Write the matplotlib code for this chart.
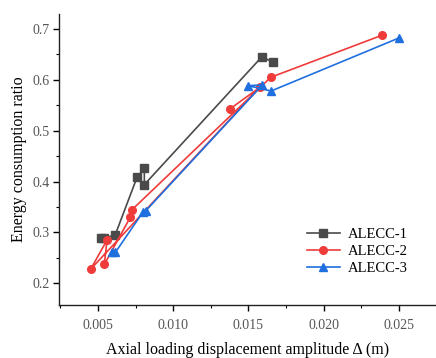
import matplotlib
matplotlib.use("Agg")
import matplotlib.pyplot as plt
from matplotlib.ticker import MultipleLocator

# values, in drawing order
alecc1_x = [0.00518, 0.00540, 0.00613, 0.00759, 0.00808, 0.00808, 0.01588, 0.01664]
alecc1_y = [0.289, 0.290, 0.294, 0.408, 0.426, 0.394, 0.645, 0.635]

alecc2_x = [0.01378, 0.01574, 0.00451, 0.00560, 0.00542, 0.00715, 0.00724, 0.01648, 0.02390]
alecc2_y = [0.543, 0.585, 0.2275, 0.285, 0.237, 0.330, 0.344, 0.605, 0.688]

alecc3_x = [0.00595, 0.00616, 0.00801, 0.00819, 0.01592, 0.01497, 0.01650, 0.02497]
alecc3_y = [0.261, 0.261, 0.341, 0.343, 0.590, 0.5885, 0.578, 0.682]

labels = ["ALECC-1", "ALECC-2", "ALECC-3"]
colors = ["#4a4a4a", "#f03b3b", "#1f6fde"]
markers = ["s", "o", "^"]
msizes = [5.3, 5.5, 6.2]

plt.rcParams["font.family"] = ["Liberation Serif", "DejaVu Serif"]

fig = plt.figure(figsize=(4.36, 3.58), dpi=100)
ax = fig.add_axes([0.136, 0.148, 0.862, 0.813])

series = [(alecc1_x, alecc1_y), (alecc2_x, alecc2_y), (alecc3_x, alecc3_y)]
for (xs, ys), lab, c, m, ms in zip(series, labels, colors, markers, msizes):
    ax.plot(xs, ys, color=c, marker=m, markersize=ms, linewidth=1.2, label=lab)

ax.set_xlim(0.00243, 0.0274)
ax.set_ylim(0.1573, 0.7295)
ax.xaxis.set_major_locator(MultipleLocator(0.005))
ax.xaxis.set_minor_locator(MultipleLocator(0.0025))
ax.yaxis.set_major_locator(MultipleLocator(0.1))
ax.yaxis.set_minor_locator(MultipleLocator(0.05))
ax.xaxis.set_major_formatter(plt.FuncFormatter(lambda v, p: f"{v:.3f}"))
ax.yaxis.set_major_formatter(plt.FuncFormatter(lambda v, p: f"{v:.1f}"))

ax.spines["top"].set_visible(False)
ax.spines["right"].set_visible(False)
for s in ["left", "bottom"]:
    ax.spines[s].set_linewidth(1.0)
    ax.spines[s].set_color("#222222")
ax.tick_params(which="major", direction="out", length=4, width=1.0, labelsize=10,
               labelcolor="#555555")
ax.tick_params(axis="x", which="major", pad=6)
ax.tick_params(axis="y", which="major", pad=3)
ax.tick_params(which="minor", direction="out", length=2.5, width=0.8)

ax.set_xlabel("Axial loading displacement amplitude Δ (m)", fontsize=11.5, labelpad=7)
ax.set_ylabel("Energy consumption ratio", fontsize=11.5, labelpad=4)

ax.legend(loc="center left", bbox_to_anchor=(0.7034, 0.2969), bbox_transform=fig.transFigure,
          frameon=False, fontsize=10.5, handlelength=2.3, handletextpad=0.5,
          labelspacing=0.25, borderpad=0, borderaxespad=0)

fig.savefig("out.png", dpi=100)
